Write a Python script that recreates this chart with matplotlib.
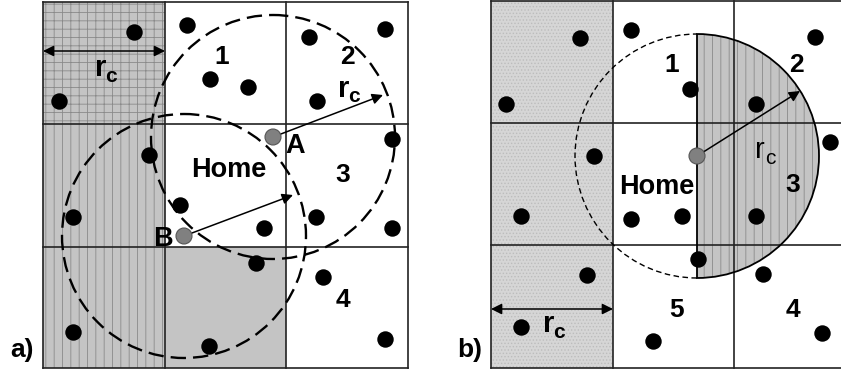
import matplotlib.pyplot as plt
from matplotlib.patches import Rectangle, Circle, Wedge, Arc, FancyArrowPatch

plt.rcParams['font.family'] = ['Liberation Sans', 'DejaVu Sans']
plt.rcParams['hatch.linewidth'] = 0.6

# panel a: grid lines (pixel coords of the drawing)
a_cols = [43, 165, 286, 408]
a_rows = [2, 124, 247, 368]
a_dots_x = [187, 134, 59, 210, 248, 309, 385, 317, 392, 149, 180, 73, 264, 316, 392, 256, 323, 73, 209, 385]
a_dots_y = [25, 32, 101, 79, 87, 37, 29, 101, 139, 155, 205, 217, 228, 217, 228, 263, 277, 332, 346, 339]
node_A = (273, 137)
node_B = (184, 236)
arrow_A_end = (383, 95)
arrow_B_end = (293, 195)

# panel b
b_cols = [491, 613, 734, 855]
b_rows = [1, 123, 245, 368]
b_dots_x = [631, 580, 506, 690, 815, 756, 830, 594, 521, 631, 682, 756, 698, 587, 763, 521, 653, 822]
b_dots_y = [30, 38, 104, 89, 37, 104, 142, 156, 216, 219, 216, 216, 259, 275, 274, 327, 341, 333]
node_C = (697, 156)
arrow_C_end = (800, 91)

rc = 122  # transmission range = cell size

fig = plt.figure(figsize=(8.41, 3.70), dpi=100)
ax = fig.add_axes([0, 0, 1, 1])
ax.set_xlim(0, 841)
ax.set_ylim(370, 0)
ax.set_aspect('equal')
ax.axis('off')

gray = '#c4c4c4'
hatch_c = '#8a8a8a'

# ---- panel a shading
ax.add_patch(Rectangle((a_cols[0], a_rows[0]), a_cols[1] - a_cols[0], a_rows[1] - a_rows[0],
                       facecolor=gray, edgecolor=hatch_c, lw=0, hatch='++', zorder=1))
ax.add_patch(Rectangle((a_cols[0], a_rows[1]), a_cols[1] - a_cols[0], a_rows[3] - a_rows[1],
                       facecolor=gray, edgecolor=hatch_c, lw=0, hatch='||', zorder=1))
ax.add_patch(Rectangle((a_cols[1], a_rows[2]), a_cols[2] - a_cols[1], a_rows[3] - a_rows[2],
                       facecolor=gray, lw=0, zorder=1))

for x in a_cols:
    ax.plot([x, x], [a_rows[0], a_rows[-1]], color='#222222', lw=1.2, zorder=2)
for y in a_rows:
    ax.plot([a_cols[0], a_cols[-1]], [y, y], color='#222222', lw=1.2, zorder=2)

for c in (node_A, node_B):
    ax.add_patch(Circle(c, rc, fill=False, edgecolor='black', lw=1.7,
                        linestyle=(0, (6.5, 3)), zorder=3))

ax.scatter(a_dots_x, a_dots_y, s=140, color='black', zorder=4, linewidths=0)

# ---- panel b shading
ax.add_patch(Rectangle((b_cols[0], b_rows[0]), b_cols[1] - b_cols[0], b_rows[3] - b_rows[0],
                       facecolor='#d6d6d6', edgecolor='#bdbdbd', lw=0, hatch='.....', zorder=1))
ax.add_patch(Wedge(node_C, rc, -90, 90, facecolor=gray, edgecolor=hatch_c, lw=0,
                   hatch='||', zorder=1))

for x in b_cols:
    ax.plot([x, x], [b_rows[0], b_rows[-1]], color='#222222', lw=1.2, zorder=2)
for y in b_rows:
    ax.plot([b_cols[0], b_cols[-1]], [y, y], color='#222222', lw=1.2, zorder=2)

ax.add_patch(Wedge(node_C, rc, -90, 90, fill=False, edgecolor='black', lw=1.3, zorder=3))
ax.add_patch(Arc(node_C, 2 * rc, 2 * rc, theta1=90, theta2=270, edgecolor='black', lw=1.0,
                 linestyle=(0, (4, 2.5)), zorder=3))

ax.scatter(b_dots_x, b_dots_y, s=140, color='black', zorder=4, linewidths=0)

# gray nodes
for c in (node_A, node_B, node_C):
    ax.add_patch(Circle(c, 8, facecolor='#808080', edgecolor='#555555', lw=0.8, zorder=6))


def arrow(p0, p1, style='-|>'):
    ax.add_patch(FancyArrowPatch(p0, p1, arrowstyle=style, mutation_scale=16,
                                 color='black', lw=1.1, shrinkA=0, shrinkB=0, zorder=5))


arrow(node_A, arrow_A_end)
arrow(node_B, arrow_B_end)
arrow(node_C, arrow_C_end)
arrow((a_cols[0], 51), (a_cols[1], 51), '<|-|>')
arrow((b_cols[0], 309), (b_cols[1], 309), '<|-|>')

# ---- text
bold = dict(fontweight='bold', ha='center', va='center', zorder=7)
for s, x, y in [('1', 222, 57), ('2', 347, 57), ('3', 343, 175), ('4', 343, 300),
                ('1', 672, 65), ('2', 796, 65), ('3', 793, 185), ('4', 793, 310), ('5', 677, 310)]:
    ax.text(x, y, s, fontsize=19, **bold)
ax.text(229, 170, 'Home', fontsize=19.5, **bold)
ax.text(657, 187, 'Home', fontsize=19.5, **bold)
ax.text(295, 146, 'A', fontsize=19.5, **bold)
ax.text(163, 239, 'B', fontsize=19.5, **bold)
ax.text(22, 350, 'a)', fontsize=19, **bold)
ax.text(470, 350, 'b)', fontsize=19, **bold)


def rc_label(x, y, weight):
    ax.text(x, y, 'r', fontsize=21, fontweight=weight, ha='center', va='center', zorder=7)
    ax.text(x + 10, y + 8, 'c', fontsize=15, fontweight=weight, ha='center', va='center', zorder=7)


rc_label(101, 68, 'bold')
rc_label(344, 89, 'bold')
rc_label(760, 150, 'normal')
rc_label(549, 324, 'bold')

fig.savefig('out.png', dpi=100)
